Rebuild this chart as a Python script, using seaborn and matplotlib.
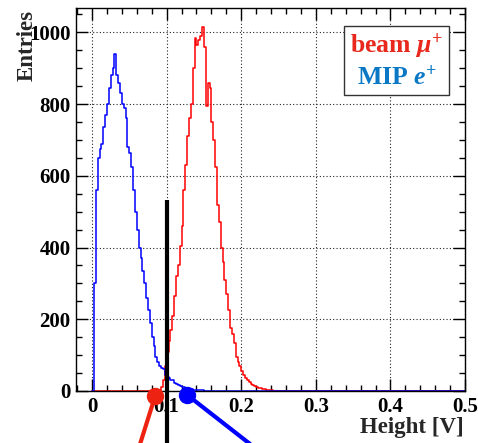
import numpy as np
import pandas as pd
import matplotlib
matplotlib.use("Agg")
import matplotlib.pyplot as plt
import seaborn as sns
from matplotlib.ticker import MultipleLocator

BIN_WIDTH = 0.0025
X_MAX = 0.5

# counts per 2.5 mV bin, blue starts at bin 0, red at bin 35
blue_counts = [
    0, 300, 560, 650, 675, 690, 735, 770, 800, 845,
    880, 900, 940, 880, 860, 830, 800, 790, 760, 680,
    665, 625, 560, 500, 450, 400, 370, 335, 300, 260,
    225, 190, 150, 125, 95, 80, 70, 65, 60, 45,
    40, 35, 30, 30, 22, 20, 18, 14, 12, 10,
    8, 9, 6, 5, 4, 4, 3, 2, 3, 2,
    1, 1, 1,
]
red_start = 35
red_counts = [
    1, 3, 10, 30, 70, 110, 140, 170, 210, 265,
    320, 350, 405, 460, 560, 630, 710, 760, 800, 900,
    985, 965, 980, 990, 1015, 960, 795, 860, 845, 750,
    700, 625, 520, 470, 400, 360, 310, 270, 225, 175,
    160, 135, 95, 80, 70, 55, 45, 35, 30, 24,
    20, 16, 14, 11, 9, 7, 6, 5, 4, 3,
    2, 2, 1, 1,
]

labels = ["beam", "MIP"]
label_particles = [r"$\mu^{+}$", r"$e^{+}$"]
label_colors = ["#e8281c", "#0a78c4"]

cut_value = 0.1
cut_top = 533
# annotation pointers below the axis: (dot x, dot y, tail x, tail y)
red_pointer = [0.0846, -14, 0.0577, -192]
blue_pointer = [0.1275, -11, 0.239, -192]

n_bins = int(round(X_MAX / BIN_WIDTH))
centers = (np.arange(n_bins) + 0.5) * BIN_WIDTH

blue = np.zeros(n_bins)
blue[:len(blue_counts)] = blue_counts
red = np.zeros(n_bins)
red[red_start:red_start + len(red_counts)] = red_counts

df = pd.DataFrame({"height": centers, "blue": blue, "red": red})

sns.set_style("ticks")
plt.rcParams["font.family"] = ["Liberation Serif", "DejaVu Serif"]
plt.rcParams["font.weight"] = "bold"
plt.rcParams["mathtext.fontset"] = "custom"
plt.rcParams["mathtext.it"] = "Liberation Serif:italic:bold"
plt.rcParams["mathtext.rm"] = "Liberation Serif:bold"
plt.rcParams["mathtext.bf"] = "Liberation Serif:bold"

fig = plt.figure(figsize=(4.78, 4.43), dpi=100)
ax = fig.add_axes([0.159, 0.1174, 0.814, 0.8646])

sns.histplot(data=df, x="height", weights="red", bins=n_bins, binrange=(0, X_MAX),
             element="step", fill=False, color="#ff0000", linewidth=1.1, ax=ax)
sns.histplot(data=df, x="height", weights="blue", bins=n_bins, binrange=(0, X_MAX),
             element="step", fill=False, color="#0000ff", linewidth=1.1, ax=ax)

ax.set_xlim(-0.0215, 0.5)
ax.set_ylim(0, 1068)
ax.xaxis.set_minor_locator(MultipleLocator(0.02))
ax.yaxis.set_major_locator(MultipleLocator(200))
ax.yaxis.set_minor_locator(MultipleLocator(50))
ax.set_xticks([0, 0.1, 0.2, 0.3, 0.4, 0.5])
ax.set_xticklabels(["0", "0.1", "0.2", "0.3", "0.4", "0.5"])
ax.tick_params(which="both", direction="in", top=True, right=True,
               labelsize=15, width=1, colors="black")
ax.tick_params(which="major", length=8.5, pad=4)
ax.tick_params(which="minor", length=4.3)
for s in ax.spines.values():
    s.set_linewidth(1.0)
    s.set_color("black")
ax.grid(True, which="major", linestyle=(0, (1, 2)), color="#222222", linewidth=0.8)

ax.set_xlabel("Height [V]", fontsize=16.5, fontweight="bold", ha="right", va="top")
ax.xaxis.set_label_coords(0.997, -0.069)
ax.set_ylabel("Entries", fontsize=16.5, fontweight="bold", ha="right", va="bottom")
ax.yaxis.set_label_coords(-0.098, 0.995)

# cut line
ax.plot([cut_value, cut_value], [-200, cut_top], color="black", linewidth=3,
        solid_capstyle="butt", clip_on=False, zorder=5)

# pointers
for p, c in [(red_pointer, "#ee2211"), (blue_pointer, "#0000ff")]:
    ax.plot([p[0], p[2]], [p[1], p[3]], color=c, linewidth=3,
            clip_on=False, zorder=6)
    ax.plot([p[0]], [p[1]], marker="o", markersize=11.5, color=c,
            clip_on=False, zorder=7)

# legend box
ax.add_patch(plt.Rectangle((0.689, 0.773), 0.27, 0.18, transform=ax.transAxes,
                           fill=True, facecolor="white", edgecolor="#333333",
                           linewidth=1.0, zorder=8))
for i, (lab, part, col) in enumerate(zip(labels, label_particles, label_colors)):
    ax.text(0.825, 0.8825 - i * 0.0835, lab + " " + part, transform=ax.transAxes,
            ha="center", va="baseline", fontsize=18.5, fontweight="bold",
            color=col, zorder=9)

fig.savefig("out.png", dpi=100)
